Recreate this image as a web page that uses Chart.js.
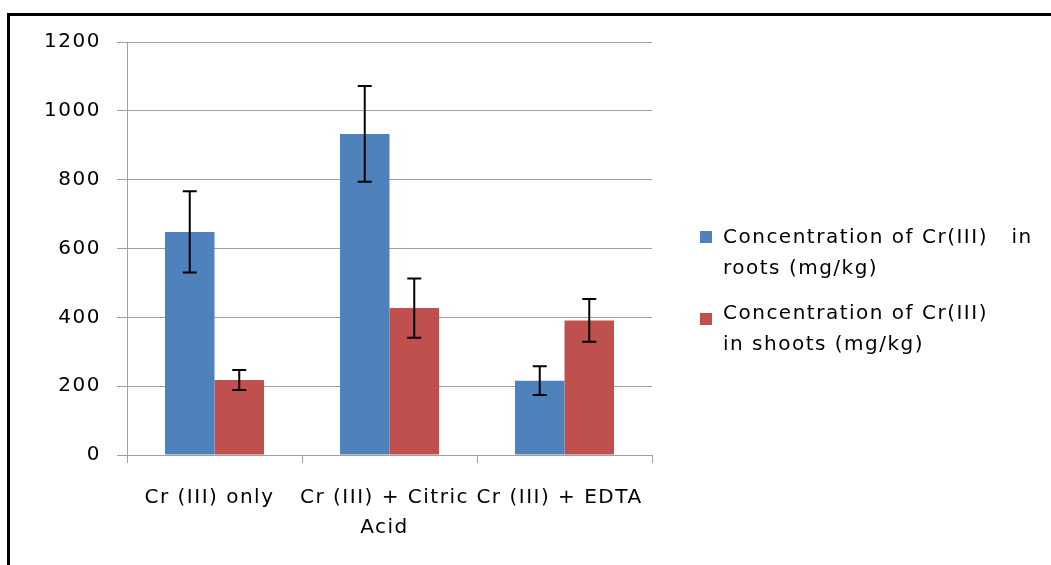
<!DOCTYPE html>
<html>
<head>
<meta charset="utf-8">
<script src="https://cdn.jsdelivr.net/npm/chart.js@4.4.1/dist/chart.umd.min.js"></script>
<style>
html,body{margin:0;padding:0;background:#fff;}
#wrap{position:relative;width:1051px;height:565px;}
</style>
</head>
<body>
<div id="wrap"><canvas id="c" width="1051" height="565"></canvas></div>
<script>
const categories = [['Cr (III) only'], ['Cr (III) + Citric', 'Acid'], ['Cr (III) + EDTA']];
const seriesNames = [['Concentration of Cr(III)   in', 'roots (mg/kg)'], ['Concentration of Cr(III)', 'in shoots (mg/kg)']];
const rootsValues = [648, 933, 216];
const shootsValues = [218, 427, 391];
const rootsErrors = [118, 139, 42];
const shootsErrors = [29, 86, 62];
const yTicks = [0, 200, 400, 600, 800, 1000, 1200];

const FONT = 'DejaVu Sans';
const SPACING = '1.5px';
const colors = ['#4F81BD', '#C0504D'];

const frame = {
  id: 'frame',
  beforeDraw(chart) {
    const ctx = chart.ctx;
    ctx.save();
    ctx.fillStyle = '#fff';
    ctx.fillRect(0, 0, chart.width, chart.height);
    ctx.fillStyle = '#000';
    ctx.fillRect(7, 13, 3, chart.height - 13);
    ctx.fillRect(7, 13, chart.width - 7, 3);
    ctx.restore();
    ctx.letterSpacing = SPACING;
  }
};

const errorBars = {
  id: 'errorBars',
  afterDatasetsDraw(chart) {
    const ctx = chart.ctx;
    const y = chart.scales.y;
    ctx.save();
    ctx.strokeStyle = '#000';
    ctx.lineWidth = 2;
    chart.data.datasets.forEach((ds, di) => {
      const meta = chart.getDatasetMeta(di);
      meta.data.forEach((bar, i) => {
        const v = ds.data[i], e = ds.errors[i];
        const x = bar.x;
        const yt = y.getPixelForValue(v + e), yb = y.getPixelForValue(v - e);
        ctx.beginPath();
        ctx.moveTo(x, yt); ctx.lineTo(x, yb);
        ctx.moveTo(x - 7, yt); ctx.lineTo(x + 7, yt);
        ctx.moveTo(x - 7, yb); ctx.lineTo(x + 7, yb);
        ctx.stroke();
      });
    });
    ctx.restore();
  }
};

const sideLegend = {
  id: 'sideLegend',
  afterDraw(chart) {
    const ctx = chart.ctx;
    ctx.save();
    ctx.letterSpacing = SPACING;
    ctx.font = '20px "' + FONT + '"';
    ctx.textBaseline = 'middle';
    const textY = [238, 314];
    const boxY = [231, 313];
    seriesNames.forEach((lines, i) => {
      ctx.fillStyle = colors[i];
      ctx.fillRect(700, boxY[i], 12, 12);
      ctx.fillStyle = '#000';
      lines.forEach((t, j) => ctx.fillText(t, 723, textY[i] + j * 31));
    });
    ctx.restore();
  }
};

new Chart(document.getElementById('c'), {
  type: 'bar',
  data: {
    labels: categories,
    datasets: [
      { label: seriesNames[0].join(' '), data: rootsValues, errors: rootsErrors, backgroundColor: colors[0], categoryPercentage: 0.566, barPercentage: 1 },
      { label: seriesNames[1].join(' '), data: shootsValues, errors: shootsErrors, backgroundColor: colors[1], categoryPercentage: 0.566, barPercentage: 1 }
    ]
  },
  options: {
    responsive: false,
    animation: false,
    events: [],
    layout: { padding: { left: 0, right: 399, top: 42, bottom: 0 } },
    plugins: { legend: { display: false }, tooltip: { enabled: false } },
    scales: {
      x: {
        afterFit(s) { s.height = 110; },
        grid: { drawOnChartArea: false, drawTicks: true, tickLength: 8, color: '#a0a0a0', offset: true },
        border: { color: '#a0a0a0', width: 1 },
        ticks: { color: '#000', font: { family: FONT, size: 20, lineHeight: 1.5 }, padding: 20, labelOffset: -5, maxRotation: 0, autoSkip: false }
      },
      y: {
        min: 0, max: 1200,
        afterFit(s) { s.width = 127; },
        afterBuildTicks(s) { s.ticks = yTicks.map(v => ({ value: v })); },
        grid: { color: '#a0a0a0', tickLength: 10, drawTicks: true },
        border: { color: '#a0a0a0', width: 1 },
        ticks: { color: '#000', font: { family: FONT, size: 20 }, padding: 16, callback: v => String(v) }
      }
    }
  },
  plugins: [frame, errorBars, sideLegend]
});
</script>
</body>
</html>
